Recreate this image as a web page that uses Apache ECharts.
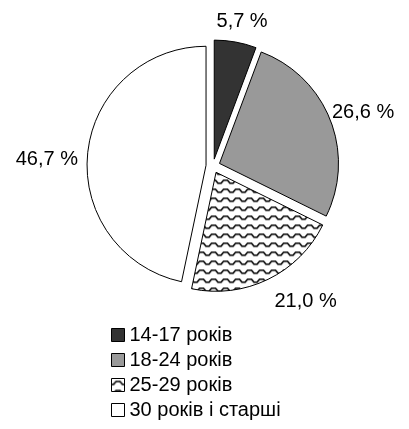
<!DOCTYPE html>
<html>
<head>
<meta charset="utf-8">
<script src="https://cdn.jsdelivr.net/npm/echarts@6/dist/echarts.min.js"></script>
<style>
html,body{margin:0;padding:0;background:#fff;}
#chart{width:409px;height:429px;}
</style>
</head>
<body>
<div id="chart"></div>
<script>
// ---- data ----
const categories = ['14-17 років', '18-24 років', '25-29 років', '30 років і старші'];
const values = [5.7, 26.6, 21.0, 46.7];
const labels = ['5,7 %', '26,6 %', '21,0 %', '46,7 %'];

// ---- styles ----
function makeWave() {
  const c = document.createElement('canvas');
  c.width = 12; c.height = 9;
  const g = c.getContext('2d');
  g.fillStyle = '#fff'; g.fillRect(0, 0, 12, 9);
  g.strokeStyle = '#000'; g.lineWidth = 1.6;
  g.beginPath();
  g.moveTo(-1, 6); g.lineTo(2, 6); g.lineTo(4.5, 3); g.lineTo(8.5, 3); g.lineTo(11, 6); g.lineTo(13, 6);
  g.stroke();
  return c;
}
const fills = ['#333333', '#999999', { image: makeWave(), repeat: 'repeat' }, '#ffffff'];
const labelShift = [[3, 0], [-3, 7], [25, -4], [-3, 10]];
const FONT = 'Arial, "Liberation Sans", sans-serif';
const FS = 20;
const total = values.reduce((a, b) => a + b, 0);
const mids = [];
{ let acc = 0; values.forEach(v => { mids.push((acc + v / 2) / total * 2 * Math.PI); acc += v; }); }

const chart = echarts.init(document.getElementById('chart'), null, { renderer: 'canvas' });
chart.setOption({
  animation: false,
  backgroundColor: '#ffffff',
  legend: {
    orient: 'vertical',
    left: 106,
    top: 320,
    itemWidth: 13,
    itemHeight: 13,
    itemGap: 5,
    icon: 'rect',
    selectedMode: false,
    textStyle: { fontFamily: FONT, fontSize: FS, color: '#000' },
    itemStyle: { borderColor: '#000', borderWidth: 1 },
    data: categories
  },
  series: [{
    type: 'pie',
    center: [213, 166],
    radius: 119,
    startAngle: 90,
    clockwise: true,
    selectedMode: 'multiple',
    selectedOffset: 7,
    avoidLabelOverlap: false,
    itemStyle: { borderColor: '#000', borderWidth: 1 },
    emphasis: { disabled: true },
    label: {
      show: true,
      position: 'outside',
      fontFamily: FONT,
      fontSize: FS,
      color: '#000',
      distanceToLabelLine: 0,
      formatter: p => labels[p.dataIndex]
    },
    labelLine: { show: false, length: 6, length2: 0 },
    labelLayout: function (p) {
      const a = mids[p.dataIndex];
      const ux = Math.sin(a), uy = -Math.cos(a);
      const w = p.labelRect.width, h = p.labelRect.height;
      const ext = Math.abs(ux) * w / 2 + Math.abs(uy) * h / 2;
      const sgn = p.align === 'right' ? 1 : -1;
      const s = labelShift[p.dataIndex];
      return { dx: ux * ext + sgn * w / 2 + s[0], dy: uy * ext + s[1] };
    },
    data: categories.map((n, i) => ({ name: n, value: values[i], selected: true, itemStyle: { color: fills[i] } }))
  }]
});
</script>
</body>
</html>
